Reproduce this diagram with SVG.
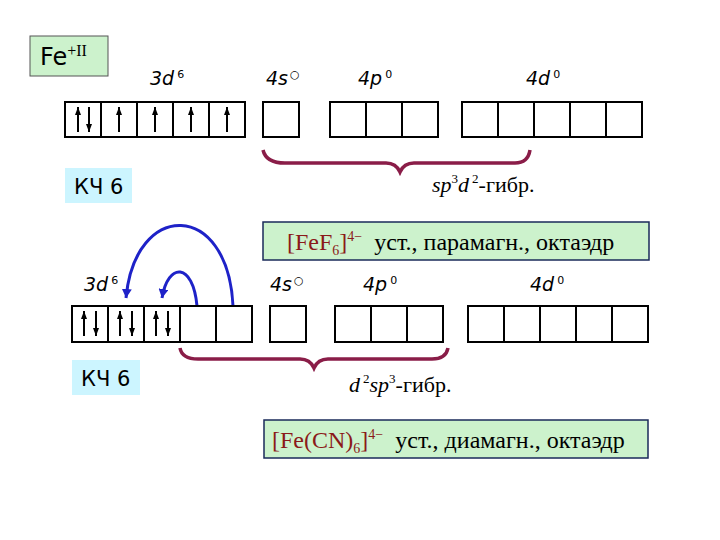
<svg xmlns="http://www.w3.org/2000/svg" width="720" height="540" viewBox="0 0 720 540">
<style>
.orb{fill:#fff;stroke:#000;stroke-width:2}
.lbl{font-family:"DejaVu Sans",sans-serif;font-size:19px;font-style:italic}
.sup{font-size:11px;font-style:normal}
.sp{stroke:#000;stroke-width:2}
.brace{fill:none;stroke:#8a1d48;stroke-width:3.5}
.arc{fill:none;stroke:#1e22c8;stroke-width:3}
.ser{font-family:"Liberation Serif",serif;font-size:22px}
.big{font-size:24px}
.red{fill:#8b1a1a}
</style>
<defs>
<marker id="ah" markerWidth="8" markerHeight="6" refX="8" refY="3" orient="auto" markerUnits="userSpaceOnUse"><path d="M0,0 L8,3 L0,6 Z" fill="#000"/></marker>
<marker id="ab" markerWidth="10" markerHeight="10" refX="9" refY="5" orient="auto" markerUnits="userSpaceOnUse"><path d="M0,0 L9,5 L0,10 Z" fill="#1e22c8"/></marker>
</defs>
<rect width="720" height="540" fill="#fff"/>
<g id="fe"><rect x="30" y="36" width="78" height="40" fill="#ccf2cc" stroke="#555" stroke-width="1"/>
<text x="40" y="65" font-family="DejaVu Sans,sans-serif" font-size="24">Fe<tspan font-family="Liberation Serif,serif" font-size="16" dy="-9">+II</tspan></text></g>
<g id="labels1" class="lbl">
<text x="150" y="85">3d<tspan class="sup" dx="3" dy="-7">6</tspan></text>
<text x="266" y="85">4s<tspan class="sup" dx="2" dy="-7">○</tspan></text>
<text x="358" y="85">4p<tspan class="sup" dx="3" dy="-7">0</tspan></text>
<text x="526" y="85">4d<tspan class="sup" dx="3" dy="-7">0</tspan></text>
</g>
<g id="row1">
<rect class="orb" x="65" y="102" width="36" height="35"/><rect class="orb" x="101" y="102" width="36" height="35"/><rect class="orb" x="137" y="102" width="36" height="35"/><rect class="orb" x="173" y="102" width="36" height="35"/><rect class="orb" x="209" y="102" width="36" height="35"/>
<rect class="orb" x="263" y="102" width="36" height="35"/>
<rect class="orb" x="330" y="102" width="36" height="35"/><rect class="orb" x="366" y="102" width="36" height="35"/><rect class="orb" x="402" y="102" width="36" height="35"/>
<rect class="orb" x="462" y="102" width="36" height="35"/><rect class="orb" x="498" y="102" width="36" height="35"/><rect class="orb" x="534" y="102" width="36" height="35"/><rect class="orb" x="570" y="102" width="36" height="35"/><rect class="orb" x="606" y="102" width="36" height="35"/>
<line class="sp" x1="78" y1="132" x2="78" y2="107" marker-end="url(#ah)"/>
<line class="sp" x1="89" y1="107" x2="89" y2="132" marker-end="url(#ah)"/>
<line class="sp" x1="119" y1="132" x2="119" y2="107" marker-end="url(#ah)"/>
<line class="sp" x1="155" y1="132" x2="155" y2="107" marker-end="url(#ah)"/>
<line class="sp" x1="191" y1="132" x2="191" y2="107" marker-end="url(#ah)"/>
<line class="sp" x1="227" y1="132" x2="227" y2="107" marker-end="url(#ah)"/>
</g>
<g id="connectors">
<path class="brace" d="M263,150 Q266,163 285,163 L386,163 Q396,163 400,172 Q404,163 414,163 L515,163 Q528,163 530,150"/>
<path class="brace" d="M180,348 Q182,359 198,359 L300,359 Q310,359 314,368 Q318,359 328,359 L432,359 Q446,359 448,348"/>
<path class="arc" d="M233,306 C228,200 135,200 126,298" marker-end="url(#ab)"/>
<path class="arc" d="M197,306 C193,262 168,262 162,298" marker-end="url(#ab)"/>
</g>
<g id="kch1"><rect x="65" y="168" width="67" height="35" fill="#ccf5ff"/><text x="74" y="194" font-family="DejaVu Sans,sans-serif" font-size="21">КЧ 6</text></g>
<text class="ser" x="432" y="192"><tspan font-style="italic">sp</tspan><tspan font-size="13" dy="-9">3</tspan><tspan font-style="italic" dy="9">d</tspan><tspan font-size="13" dx="3" dy="-9">2</tspan><tspan dy="9">-гибр.</tspan></text>
<g id="fef6"><rect x="263" y="222" width="386" height="38" fill="#ccf2cc" stroke="#1a2a5a" stroke-width="1.5"/>
<text class="ser big" x="287" y="250"><tspan class="red">[FeF</tspan><tspan class="red" font-size="14" dy="5">6</tspan><tspan class="red" dy="-5">]</tspan><tspan class="red" font-size="14" dy="-9">4−</tspan><tspan dx="12" dy="9">уст., парамагн., октаэдр</tspan></text></g>
<g id="labels2" class="lbl">
<text x="84" y="291">3d<tspan class="sup" dx="3" dy="-7">6</tspan></text>
<text x="270" y="291">4s<tspan class="sup" dx="2" dy="-7">○</tspan></text>
<text x="363" y="291">4p<tspan class="sup" dx="3" dy="-7">0</tspan></text>
<text x="530" y="291">4d<tspan class="sup" dx="3" dy="-7">0</tspan></text>
</g>
<g id="row2">
<rect class="orb" x="72" y="306" width="36" height="36"/><rect class="orb" x="108" y="306" width="36" height="36"/><rect class="orb" x="144" y="306" width="36" height="36"/><rect class="orb" x="180" y="306" width="36" height="36"/><rect class="orb" x="216" y="306" width="36" height="36"/>
<rect class="orb" x="270" y="306" width="36" height="36"/>
<rect class="orb" x="335" y="306" width="36" height="36"/><rect class="orb" x="371" y="306" width="36" height="36"/><rect class="orb" x="407" y="306" width="36" height="36"/>
<rect class="orb" x="468" y="306" width="36" height="36"/><rect class="orb" x="504" y="306" width="36" height="36"/><rect class="orb" x="540" y="306" width="36" height="36"/><rect class="orb" x="576" y="306" width="36" height="36"/><rect class="orb" x="612" y="306" width="36" height="36"/>
<line class="sp" x1="84" y1="336" x2="84" y2="311" marker-end="url(#ah)"/>
<line class="sp" x1="96" y1="311" x2="96" y2="336" marker-end="url(#ah)"/>
<line class="sp" x1="120" y1="336" x2="120" y2="311" marker-end="url(#ah)"/>
<line class="sp" x1="132" y1="311" x2="132" y2="336" marker-end="url(#ah)"/>
<line class="sp" x1="156" y1="336" x2="156" y2="311" marker-end="url(#ah)"/>
<line class="sp" x1="168" y1="311" x2="168" y2="336" marker-end="url(#ah)"/>
</g>
<g id="kch2"><rect x="72" y="360" width="68" height="35" fill="#ccf5ff"/><text x="81" y="386" font-family="DejaVu Sans,sans-serif" font-size="21">КЧ 6</text></g>
<text class="ser" x="349" y="392"><tspan font-style="italic">d</tspan><tspan font-size="13" dx="3" dy="-9">2</tspan><tspan font-style="italic" dy="9">sp</tspan><tspan font-size="13" dy="-9">3</tspan><tspan dy="9">-гибр.</tspan></text>
<g id="fecn"><rect x="264" y="420" width="384" height="38" fill="#ccf2cc" stroke="#1a2a5a" stroke-width="1.5"/>
<text class="ser big" x="272" y="448"><tspan class="red">[Fe(CN)</tspan><tspan class="red" font-size="14" dy="5">6</tspan><tspan class="red" dy="-5">]</tspan><tspan class="red" font-size="14" dy="-9">4−</tspan><tspan dx="12" dy="9">уст., диамагн., октаэдр</tspan></text></g>
</svg>
